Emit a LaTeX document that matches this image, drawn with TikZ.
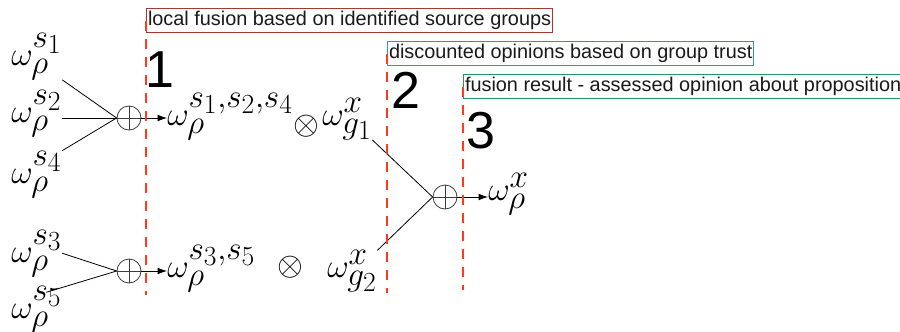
\documentclass[tikz,border=0pt]{standalone}
\usepackage{amsmath}
\usepackage{fontspec}
\setmainfont{Liberation Sans}
\usetikzlibrary{arrows.meta,positioning}
\DeclareMathSizes{29}{29}{24.5}{21}
\definecolor{fgDash}{HTML}{FF3B1A}
\definecolor{fgLocal}{HTML}{A3392F}
\definecolor{fgTrust}{HTML}{1E90FF}
\definecolor{fgResult}{HTML}{1F9A5C}
\definecolor{fgInk}{HTML}{1A1A1A}
\tikzset{
  % Stage caption box
  capbox/.style={rectangle,draw,line width=1pt,anchor=north west,
    inner xsep=1pt,inner ysep=0pt,minimum height=18pt,
    font=\fontsize{14.9}{17}\selectfont,text=fgInk},
  % Stage number
  stagenum/.style={anchor=base,inner sep=0pt,
    font=\fontsize{39}{44}\selectfont},
  % Opinion label (math)
  opn/.style={anchor=base west,inner sep=0pt,
    font=\fontsize{29}{34}\selectfont},
  % Fusion operator (circled plus)
  fuse/.style={circle,draw=fgInk!85,line width=0.6pt,
    minimum size=18pt,inner sep=0pt,
    path picture={\draw[line width=0.6pt,fgInk!85]
      (path picture bounding box.north) -- (path picture bounding box.south)
      (path picture bounding box.west) -- (path picture bounding box.east);}},
  % Discount operator
  disc/.style={inner sep=0pt,font=\fontsize{27}{30}\selectfont},
  % Lines
  link/.style={line width=0.6pt,color=black},
  arr/.style={-{Latex[length=7pt,width=5pt]},line width=0.6pt,color=black},
  stageline/.style={dashed,dash pattern=on 7.5pt off 6pt,
    line width=1.8pt,color=fgDash},
}
\begin{document}
\begin{tikzpicture}[x=0.75pt,y=-0.75pt]
  \useasboundingbox (0,0) rectangle (900,332);
  % stage captions
  \node[capbox,draw=fgLocal] (cap1) at (146,8)
    {local fusion based on identified source groups};
  \node[capbox,draw=fgTrust] (cap2) at (387,41)
    {discounted opinions based on group trust};
  \node[capbox,draw=fgResult] (cap3) at (463,74)
    {fusion result - assessed opinion about proposition};

  \node[stagenum] (n1) at (160,87) {1};
  \node[stagenum] (n2) at (406,108) {2};
  \node[stagenum] (n3) at (481,148) {3};

  % source opinions
  \node[opn] (ws1) at (11,65) {$\omega_\rho^{s_1}$};
  \node[opn] (ws2) at (11,122) {$\omega_\rho^{s_2}$};
  \node[opn] (ws4) at (11,183) {$\omega_\rho^{s_4}$};
  \node[opn] (ws3) at (11,262) {$\omega_\rho^{s_3}$};
  \node[opn] (ws5) at (11,318) {$\omega_\rho^{s_5}$};

  % fusion operators
  \node[fuse] (f1) at (129,118) {};
  \node[fuse] (f2) at (129,271) {};
  \node[fuse] (f3) at (445,197) {};

  % group opinions and discounting
  \node[opn] (wg1) at (167,125) {$\omega_\rho^{s_1,s_2,s_4}$};
  \node[opn] (wg2) at (167,277) {$\omega_\rho^{s_3,s_5}$};
  \node[disc] (d1) at (306,126) {$\otimes$};
  \node[disc] (d2) at (290,267) {$\otimes$};
  \node[opn] (wt1) at (322,125) {$\omega_{g_1}^x$};
  \node[opn] (wt2) at (327,277) {$\omega_{g_2}^x$};
  \node[opn] (wx) at (488,200) {$\omega_\rho^x$};

  \draw[link] (ws1.south east) -- (f1.west);
  \draw[link] (ws2.east |- f1.west) -- (f1.west);
  \draw[link] (ws4.north east) -- (f1.west);
  \draw[link] (ws3.east) -- (f2.west);
  \draw[link] ([xshift=-12pt,yshift=-5pt]ws5.north east) -- (f2.west);
  \draw[arr] (f1.east) -- (f1.east -| wg1.west);
  \draw[arr] (f2.east) -- (f2.east -| wg2.west);
  \draw[link] (wt1.south east) -- (f3.west);
  \draw[link] (wt2.north east) -- (f3.west);
  \draw[arr] (f3.east) -- (f3.east -| wx.west);

  % stage separators
  \draw[stageline] (cap1.west) -- (cap1.west |- 0,295);
  \draw[stageline] (cap2.west) -- (cap2.west |- 0,293);
  \draw[stageline] (cap3.west) -- (cap3.west |- 0,290);
\end{tikzpicture}
\end{document}
